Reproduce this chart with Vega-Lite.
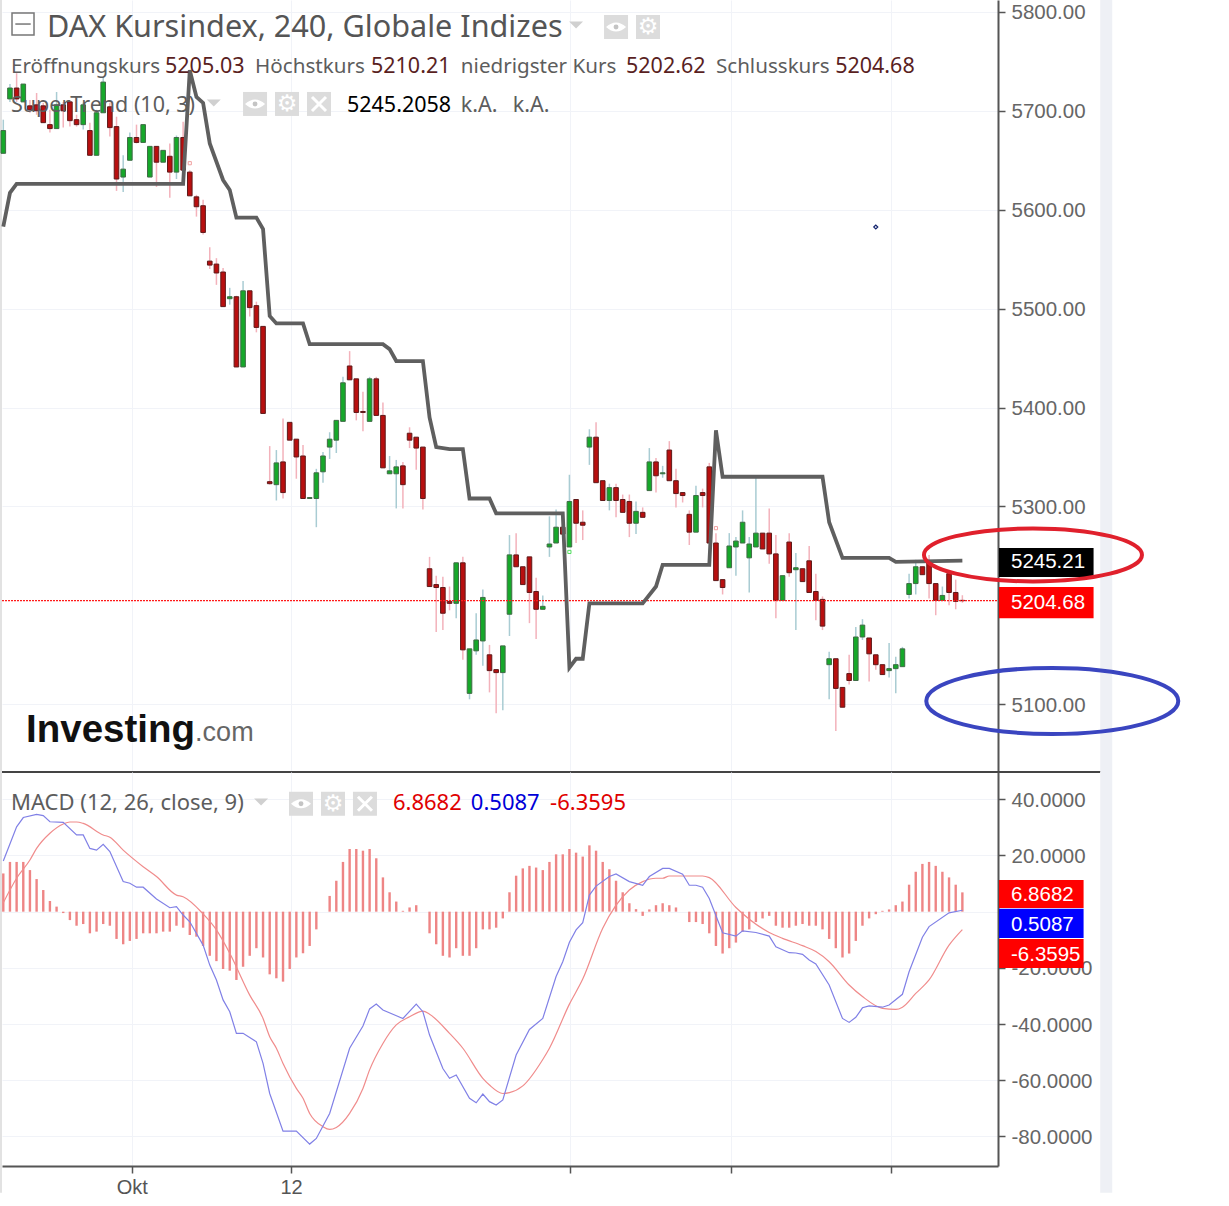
{
  "$schema": "https://vega.github.io/schema/vega-lite/v6.json",
  "background": "white",
  "padding": {"left": -5, "top": 0, "right": 0, "bottom": 0},
  "spacing": 0,
  "bounds": "flush",
  "config": {"view": {"stroke": null}, "axis": {"title": null}, "text": {"font": "Noto Sans"}},
  "datasets": {
    "one": [{}],
    "candles": [
      {"i":0,"open":5657,"high":5691,"low":5657,"close":5680},{"i":1,"open":5712,"high":5727,"low":5709,"close":5723},{"i":2,"open":5723,"high":5738,"low":5709,"close":5712},{"i":3,"open":5709,"high":5727,"low":5709,"close":5727},{"i":4,"open":5705,"high":5711,"low":5698,"close":5701},
      {"i":5,"open":5706,"high":5718,"low":5696,"close":5700},{"i":6,"open":5705,"high":5708,"low":5688,"close":5688},{"i":7,"open":5686,"high":5701,"low":5678,"close":5682},{"i":8,"open":5682,"high":5719,"low":5682,"close":5706},{"i":9,"open":5706,"high":5709,"low":5683,"close":5700},
      {"i":10,"open":5709,"high":5711,"low":5684,"close":5690},{"i":11,"open":5691,"high":5696,"low":5684,"close":5686},{"i":12,"open":5686,"high":5708,"low":5681,"close":5706},{"i":13,"open":5680,"high":5688,"low":5655,"close":5655},{"i":14,"open":5655,"high":5701,"low":5655,"close":5698},
      {"i":15,"open":5698,"high":5734,"low":5698,"close":5729},{"i":16,"open":5704,"high":5708,"low":5674,"close":5683},{"i":17,"open":5684,"high":5694,"low":5619,"close":5631},{"i":18,"open":5633,"high":5655,"low":5618,"close":5641},{"i":19,"open":5650,"high":5678,"low":5650,"close":5673},
      {"i":20,"open":5673,"high":5686,"low":5667,"close":5668},{"i":21,"open":5668,"high":5686,"low":5668,"close":5686},{"i":22,"open":5633,"high":5664,"low":5633,"close":5664},{"i":23,"open":5664,"high":5664,"low":5623,"close":5648},{"i":24,"open":5648,"high":5660,"low":5648,"close":5660},
      {"i":25,"open":5654,"high":5667,"low":5612,"close":5638},{"i":26,"open":5638,"high":5675,"low":5631,"close":5673},{"i":27,"open":5673,"high":5689,"low":5630,"close":5640},{"i":28,"open":5638,"high":5640,"low":5614,"close":5614},{"i":29,"open":5613,"high":5615,"low":5593,"close":5603},
      {"i":30,"open":5604,"high":5610,"low":5575,"close":5577},{"i":31,"open":5548,"high":5562,"low":5540,"close":5544},{"i":32,"open":5545,"high":5551,"low":5524,"close":5536},{"i":33,"open":5537,"high":5541,"low":5502,"close":5502},{"i":34,"open":5510,"high":5521,"low":5504,"close":5512},
      {"i":35,"open":5512,"high":5513,"low":5441,"close":5441},{"i":36,"open":5441,"high":5528,"low":5441,"close":5518},{"i":37,"open":5518,"high":5518,"low":5492,"close":5501},{"i":38,"open":5503,"high":5507,"low":5476,"close":5481},{"i":39,"open":5482,"high":5482,"low":5394,"close":5394},
      {"i":40,"open":5325,"high":5361,"low":5322,"close":5323},{"i":41,"open":5322,"high":5357,"low":5306,"close":5344},{"i":42,"open":5345,"high":5389,"low":5308,"close":5314},{"i":43,"open":5385,"high":5385,"low":5367,"close":5367},{"i":44,"open":5368,"high":5368,"low":5328,"close":5350},
      {"i":45,"open":5351,"high":5362,"low":5308,"close":5308},{"i":46,"open":5308,"high":5309,"low":5308,"close":5309},{"i":47,"open":5308,"high":5338,"low":5279,"close":5334},{"i":48,"open":5335,"high":5355,"low":5324,"close":5351},{"i":49,"open":5360,"high":5375,"low":5348,"close":5368},
      {"i":50,"open":5367,"high":5387,"low":5354,"close":5387},{"i":51,"open":5386,"high":5431,"low":5386,"close":5425},{"i":52,"open":5442,"high":5457,"low":5428,"close":5428},{"i":53,"open":5429,"high":5429,"low":5387,"close":5395},{"i":54,"open":5396,"high":5416,"low":5376,"close":5395},
      {"i":55,"open":5386,"high":5431,"low":5386,"close":5429},{"i":56,"open":5429,"high":5431,"low":5392,"close":5392},{"i":57,"open":5392,"high":5405,"low":5339,"close":5339},{"i":58,"open":5333,"high":5351,"low":5333,"close":5336},{"i":59,"open":5333,"high":5347,"low":5298,"close":5340},
      {"i":60,"open":5341,"high":5345,"low":5298,"close":5322},{"i":61,"open":5374,"high":5380,"low":5359,"close":5367},{"i":62,"open":5370,"high":5370,"low":5337,"close":5359},{"i":63,"open":5360,"high":5360,"low":5297,"close":5308},{"i":64,"open":5237,"high":5249,"low":5219,"close":5219},
      {"i":65,"open":5221,"high":5230,"low":5173,"close":5218},{"i":66,"open":5218,"high":5229,"low":5175,"close":5192},{"i":67,"open":5204,"high":5219,"low":5195,"close":5202},{"i":68,"open":5202,"high":5243,"low":5187,"close":5243},{"i":69,"open":5243,"high":5249,"low":5145,"close":5155},
      {"i":70,"open":5111,"high":5156,"low":5105,"close":5156},{"i":71,"open":5154,"high":5192,"low":5150,"close":5165},{"i":72,"open":5164,"high":5216,"low":5139,"close":5208},{"i":73,"open":5150,"high":5160,"low":5112,"close":5134},{"i":74,"open":5135,"high":5135,"low":5091,"close":5132},
      {"i":75,"open":5132,"high":5159,"low":5094,"close":5159},{"i":76,"open":5191,"high":5271,"low":5169,"close":5251},{"i":77,"open":5251,"high":5273,"low":5239,"close":5239},{"i":78,"open":5239,"high":5239,"low":5221,"close":5221},{"i":79,"open":5249,"high":5249,"low":5182,"close":5213},
      {"i":80,"open":5214,"high":5228,"low":5166,"close":5196},{"i":81,"open":5196,"high":5210,"low":5196,"close":5199},{"i":82,"open":5259,"high":5290,"low":5249,"close":5262},{"i":83,"open":5263,"high":5297,"low":5263,"close":5279},{"i":84,"open":5279,"high":5285,"low":5272,"close":5272},
      {"i":85,"open":5259,"high":5332,"low":5259,"close":5305},{"i":86,"open":5307,"high":5307,"low":5263,"close":5283},{"i":87,"open":5284,"high":5296,"low":5266,"close":5281},{"i":88,"open":5360,"high":5378,"low":5342,"close":5370},{"i":89,"open":5370,"high":5385,"low":5324,"close":5324},
      {"i":90,"open":5326,"high":5326,"low":5306,"close":5306},{"i":91,"open":5306,"high":5323,"low":5296,"close":5319},{"i":92,"open":5319,"high":5323,"low":5289,"close":5306},{"i":93,"open":5307,"high":5312,"low":5294,"close":5294},{"i":94,"open":5305,"high":5312,"low":5269,"close":5283},
      {"i":95,"open":5283,"high":5305,"low":5272,"close":5295},{"i":96,"open":5294,"high":5299,"low":5289,"close":5289},{"i":97,"open":5316,"high":5359,"low":5316,"close":5345},{"i":98,"open":5345,"high":5349,"low":5314,"close":5331},{"i":99,"open":5333,"high":5341,"low":5329,"close":5334},
      {"i":100,"open":5357,"high":5366,"low":5326,"close":5326},{"i":101,"open":5326,"high":5338,"low":5299,"close":5313},{"i":102,"open":5314,"high":5314,"low":5304,"close":5311},{"i":103,"open":5292,"high":5296,"low":5261,"close":5274},{"i":104,"open":5274,"high":5321,"low":5274,"close":5311},
      {"i":105,"open":5314,"high":5318,"low":5299,"close":5311},{"i":106,"open":5340,"high":5344,"low":5263,"close":5263},{"i":107,"open":5263,"high":5273,"low":5225,"close":5225},{"i":108,"open":5226,"high":5226,"low":5211,"close":5218},{"i":109,"open":5238,"high":5273,"low":5238,"close":5260},
      {"i":110,"open":5259,"high":5269,"low":5230,"close":5265},{"i":111,"open":5263,"high":5296,"low":5263,"close":5284},{"i":112,"open":5248,"high":5269,"low":5213,"close":5262},{"i":113,"open":5259,"high":5329,"low":5259,"close":5273},{"i":114,"open":5273,"high":5273,"low":5257,"close":5257},
      {"i":115,"open":5273,"high":5298,"low":5242,"close":5252},{"i":116,"open":5252,"high":5271,"low":5187,"close":5205},{"i":117,"open":5205,"high":5230,"low":5205,"close":5230},{"i":118,"open":5264,"high":5273,"low":5229,"close":5233},{"i":119,"open":5236,"high":5253,"low":5175,"close":5238},
      {"i":120,"open":5237,"high":5237,"low":5224,"close":5224},{"i":121,"open":5245,"high":5260,"low":5213,"close":5213},{"i":122,"open":5214,"high":5232,"low":5185,"close":5205},{"i":123,"open":5206,"high":5209,"low":5175,"close":5179},{"i":124,"open":5140,"high":5153,"low":5105,"close":5146},
      {"i":125,"open":5146,"high":5146,"low":5073,"close":5116},{"i":126,"open":5117,"high":5117,"low":5097,"close":5097},{"i":127,"open":5131,"high":5150,"low":5120,"close":5124},{"i":128,"open":5124,"high":5178,"low":5124,"close":5168},{"i":129,"open":5168,"high":5186,"low":5165,"close":5180},
      {"i":130,"open":5167,"high":5167,"low":5123,"close":5151},{"i":131,"open":5150,"high":5150,"low":5135,"close":5140},{"i":132,"open":5140,"high":5140,"low":5130,"close":5130},{"i":133,"open":5134,"high":5162,"low":5127,"close":5136},{"i":134,"open":5136,"high":5148,"low":5111,"close":5140},
      {"i":135,"open":5138,"high":5158,"low":5138,"close":5156},{"i":136,"open":5211,"high":5232,"low":5207,"close":5222},{"i":137,"open":5222,"high":5246,"low":5211,"close":5239},{"i":138,"open":5239,"high":5239,"low":5231,"close":5231},{"i":139,"open":5243,"high":5251,"low":5207,"close":5222},
      {"i":140,"open":5222,"high":5222,"low":5190,"close":5205},{"i":141,"open":5205,"high":5219,"low":5205,"close":5210},{"i":142,"open":5232,"high":5232,"low":5200,"close":5213},{"i":143,"open":5213,"high":5226,"low":5196,"close":5204},{"i":144,"open":5205.03,"high":5210.21,"low":5202.62,"close":5204.68}
    ],
    "supertrend": [
      {"i":0,"st":5583},{"i":1,"st":5617},{"i":2,"st":5626},{"i":27,"st":5626},{"i":28,"st":5741},{"i":29,"st":5714},{"i":30,"st":5708},{"i":31,"st":5667},{"i":33,"st":5630},{"i":34,"st":5620},{"i":35,"st":5592},{"i":38,"st":5592},{"i":39,"st":5580.5},{"i":40,"st":5492.5},{"i":41,"st":5485},{"i":45,"st":5485},{"i":46,"st":5464},{"i":57,"st":5464},{"i":58,"st":5459},{"i":59,"st":5447},{"i":63,"st":5447},{"i":64,"st":5390},{"i":65,"st":5360},{"i":67,"st":5358},{"i":69,"st":5358},{"i":70,"st":5308},{"i":73,"st":5308},{"i":74,"st":5293},{"i":84,"st":5293},{"i":85,"st":5137},{"i":86,"st":5146},{"i":87,"st":5146},{"i":88,"st":5202},{"i":96,"st":5202},{"i":98,"st":5219},{"i":99,"st":5241},{"i":106,"st":5241},{"i":107,"st":5377},{"i":108,"st":5330},{"i":123,"st":5330},{"i":124,"st":5284},{"i":126,"st":5248},{"i":133,"st":5248},{"i":134,"st":5244},{"i":144,"st":5245.21}
    ],
    "signals": [
      {"i":28,"y":5647,"dir":"down"},{"i":85,"y":5254,"dir":"up"},{"i":107,"y":5278,"dir":"down"}
    ],
    "hist": [
      {"i":0,"h":13.6},{"i":1,"h":17.7},{"i":2,"h":17.7},{"i":3,"h":17.7},{"i":4,"h":14.8},{"i":5,"h":11.6},{"i":6,"h":7.7},{"i":7,"h":3.8},{"i":8,"h":1.8},{"i":9,"h":-0.5},{"i":10,"h":-3},{"i":11,"h":-5},{"i":12,"h":-4.4},{"i":13,"h":-7.7},{"i":14,"h":-7.1},{"i":15,"h":-4.4},{"i":16,"h":-5},{"i":17,"h":-9.7},{"i":18,"h":-11.6},{"i":19,"h":-10.4},{"i":20,"h":-9.7},{"i":21,"h":-7.7},{"i":22,"h":-7.7},{"i":23,"h":-7.7},{"i":24,"h":-7.1},{"i":25,"h":-7.1},{"i":26,"h":-5},{"i":27,"h":-5.7},{"i":28,"h":-8.3},{"i":29,"h":-8.9},
      {"i":30,"h":-12.2},{"i":31,"h":-15.7},{"i":32,"h":-17.6},{"i":33,"h":-20.4},{"i":34,"h":-21},{"i":35,"h":-24.3},{"i":36,"h":-19.6},{"i":37,"h":-15.7},{"i":38,"h":-13},{"i":39,"h":-16.3},{"i":40,"h":-22.3},{"i":41,"h":-23.7},{"i":42,"h":-24.9},{"i":43,"h":-20.4},{"i":44,"h":-16.3},{"i":45,"h":-14.8},{"i":46,"h":-12.2},{"i":47,"h":-6.3},{"i":49,"h":5.6},{"i":50,"h":11},{"i":51,"h":17.7},{"i":52,"h":22.3},{"i":53,"h":22.3},{"i":54,"h":21.7},{"i":55,"h":22.3},{"i":56,"h":19},{"i":57,"h":12.2},{"i":58,"h":6.9},{"i":59,"h":3.6},{"i":60,"h":0.3},
      {"i":61,"h":1.5},{"i":62,"h":2.3},{"i":64,"h":-7.7},{"i":65,"h":-11.6},{"i":66,"h":-15.7},{"i":67,"h":-16.3},{"i":68,"h":-13},{"i":69,"h":-15.7},{"i":70,"h":-15.7},{"i":71,"h":-13},{"i":72,"h":-6.3},{"i":73,"h":-6.3},{"i":74,"h":-5.7},{"i":75,"h":-2.4},{"i":76,"h":6.9},{"i":77,"h":12.8},{"i":78,"h":15.4},{"i":79,"h":16.3},{"i":80,"h":15.7},{"i":81,"h":14.8},{"i":82,"h":17.7},{"i":83,"h":20.4},{"i":84,"h":20.4},{"i":85,"h":22.3},{"i":86,"h":21},{"i":87,"h":19.6},{"i":88,"h":23.6},{"i":89,"h":21.7},{"i":90,"h":17.7},
      {"i":91,"h":15.1},{"i":92,"h":11},{"i":93,"h":6.9},{"i":94,"h":3},{"i":95,"h":0.9},{"i":96,"h":-1.5},{"i":97,"h":0.8},{"i":98,"h":2.3},{"i":99,"h":3},{"i":100,"h":2.3},{"i":101,"h":1.5},{"i":103,"h":-3.7},{"i":104,"h":-3.7},{"i":105,"h":-4.4},{"i":106,"h":-7.7},{"i":107,"h":-12.2},{"i":108,"h":-14.9},{"i":109,"h":-13},{"i":110,"h":-11},{"i":111,"h":-7.1},{"i":112,"h":-6.3},{"i":113,"h":-3.7},{"i":114,"h":-2.4},{"i":115,"h":-1.5},{"i":116,"h":-5},{"i":117,"h":-5.7},{"i":118,"h":-5.7},{"i":119,"h":-5},{"i":120,"h":-4.4},
      {"i":121,"h":-5},{"i":122,"h":-5},{"i":123,"h":-6.3},{"i":124,"h":-9.7},{"i":125,"h":-13},{"i":126,"h":-16.3},{"i":127,"h":-14.9},{"i":128,"h":-10.4},{"i":129,"h":-5},{"i":130,"h":-2.4},{"i":131,"h":-0.9},{"i":132,"h":0.3},{"i":133,"h":0.8},{"i":134,"h":2.3},{"i":135,"h":3.6},{"i":136,"h":9.6},{"i":137,"h":14.2},{"i":138,"h":17},{"i":139,"h":17.7},{"i":140,"h":16.3},{"i":141,"h":14.2},{"i":142,"h":12.2},{"i":143,"h":9.6},{"i":144,"h":6.8682}
    ],
    "macd": [
      {"i":0,"m":18},{"i":2,"m":30.2},{"i":3,"m":33.5},{"i":5,"m":34.6},{"i":6,"m":34.2},{"i":7,"m":32},{"i":9,"m":31.8},{"i":11,"m":27.3},{"i":12,"m":27.3},{"i":13,"m":22.5},{"i":14,"m":21.9},{"i":15,"m":24},{"i":16,"m":21.4},{"i":18,"m":10.7},{"i":19,"m":10.1},{"i":20,"m":8.7},{"i":21,"m":8.7},{"i":23,"m":4.5},{"i":25,"m":1.4},{"i":26,"m":1.8},{"i":27,"m":-1.2},{"i":28,"m":-3.6},{"i":30,"m":-11.9},{"i":31,"m":-19},{"i":32,"m":-24.3},{"i":33,"m":-31.4},{"i":34,"m":-35.6},{"i":35,"m":-43.3},{"i":36,"m":-43.3},{"i":38,"m":-46.3},{"i":39,"m":-54},{"i":40,"m":-64.7},{"i":42,"m":-78.1},{"i":44,"m":-78.1},{"i":46,"m":-82.7},{"i":47,"m":-80.7},{"i":49,"m":-71.8},{"i":52,"m":-48.6},{"i":54,"m":-40.7},{"i":55,"m":-34.6},{"i":56,"m":-32.9},{"i":57,"m":-35},{"i":60,"m":-38},{"i":62,"m":-32.9},{"i":63,"m":-35.6},{"i":64,"m":-43.9},{"i":66,"m":-55.8},{"i":67,"m":-59.3},{"i":68,"m":-58.1},{"i":70,"m":-66.4},{"i":71,"m":-68},{"i":72,"m":-64.9},{"i":73,"m":-67.6},{"i":74,"m":-68.8},{"i":75,"m":-67},{"i":77,"m":-51},{"i":79,"m":-41.9},{"i":81,"m":-38},{"i":83,"m":-23.1},{"i":84,"m":-17.8},{"i":85,"m":-10.9},{"i":86,"m":-6.5},{"i":87,"m":-3.9},{"i":88,"m":5.9},{"i":89,"m":9.1},{"i":91,"m":12.5},{"i":92,"m":13.4},{"i":94,"m":10.7},{"i":96,"m":9.4},{"i":97,"m":12.5},{"i":99,"m":15.4},{"i":100,"m":15.4},{"i":102,"m":13.3},{"i":103,"m":9.4},{"i":104,"m":9.4},{"i":105,"m":8.7},{"i":106,"m":4.7},{"i":108,"m":-7.5},{"i":110,"m":-8.7},{"i":111,"m":-6.8},{"i":113,"m":-7.4},{"i":115,"m":-8.7},{"i":116,"m":-12.5},{"i":118,"m":-14.6},{"i":119,"m":-14.7},{"i":120,"m":-15.2},{"i":121,"m":-17.2},{"i":122,"m":-18.6},{"i":124,"m":-26.1},{"i":126,"m":-38},{"i":127,"m":-39.4},{"i":128,"m":-37.6},{"i":129,"m":-34.2},{"i":130,"m":-33.5},{"i":132,"m":-34},{"i":133,"m":-33.2},{"i":135,"m":-29.4},{"i":136,"m":-21.4},{"i":138,"m":-9.1},{"i":139,"m":-5.3},{"i":142,"m":-0.4},{"i":144,"m":0.5087}
    ],
    "signal": [
      {"i":0,"s":3.2},{"i":2,"s":11.9},{"i":4,"s":18.4},{"i":5,"s":22.5},{"i":7,"s":27.9},{"i":9,"s":31.2},{"i":10,"s":31.9},{"i":11,"s":31.9},{"i":12,"s":31.4},{"i":15,"s":27.3},{"i":16,"s":26.5},{"i":18,"s":21.9},{"i":21,"s":16},{"i":23,"s":12.5},{"i":26,"s":5.9},{"i":27,"s":5.3},{"i":30,"s":-0.8},{"i":32,"s":-6.5},{"i":34,"s":-14.8},{"i":37,"s":-29.7},{"i":39,"s":-38},{"i":40,"s":-44.5},{"i":41,"s":-48.6},{"i":42,"s":-54},{"i":44,"s":-62.9},{"i":45,"s":-66.4},{"i":46,"s":-71.8},{"i":48,"s":-76.5},{"i":49,"s":-77.5},{"i":50,"s":-76.8},{"i":52,"s":-71.8},{"i":54,"s":-62.9},{"i":55,"s":-56.3},{"i":57,"s":-46.9},{"i":59,"s":-40.3},{"i":61,"s":-37.4},{"i":63,"s":-35.4},{"i":64,"s":-36.5},{"i":67,"s":-43.3},{"i":69,"s":-48.6},{"i":72,"s":-59.3},{"i":73,"s":-61.7},{"i":75,"s":-64.7},{"i":76,"s":-64.4},{"i":78,"s":-62},{"i":81,"s":-52.6},{"i":82,"s":-48.6},{"i":85,"s":-32.9},{"i":87,"s":-24},{"i":90,"s":-5.9},{"i":94,"s":7.7},{"i":96,"s":10.7},{"i":98,"s":11.9},{"i":99,"s":11.9},{"i":100,"s":12.7},{"i":105,"s":12.7},{"i":106,"s":12.1},{"i":110,"s":1.5},{"i":115,"s":-7.4},{"i":117,"s":-9.5},{"i":120,"s":-12.1},{"i":122,"s":-14.2},{"i":124,"s":-17.8},{"i":127,"s":-26.1},{"i":129,"s":-30.2},{"i":132,"s":-34.4},{"i":134,"s":-34.8},{"i":135,"s":-34},{"i":137,"s":-29.1},{"i":139,"s":-24.3},{"i":142,"s":-11.9},{"i":144,"s":-6.3595}
    ],
    "top_labels": [
      {"i":1.16,"y":5744.3,"text":"Eröffnungskurs","kind":"label"},{"i":24.28,"y":5744.3,"text":"5205.03","kind":"ohlc"},{"i":37.8,"y":5744.3,"text":"Höchstkurs","kind":"label"},{"i":55.2,"y":5744.3,"text":"5210.21","kind":"ohlc"},{"i":68.7,"y":5744.3,"text":"niedrigster Kurs","kind":"label"},{"i":93.5,"y":5744.3,"text":"5202.62","kind":"ohlc"},{"i":107,"y":5744.3,"text":"Schlusskurs","kind":"label"},{"i":124.9,"y":5744.3,"text":"5204.68","kind":"ohlc"},
      {"i":1.16,"y":5704.9,"text":"SuperTrend (10, 3)","kind":"indicator"},{"i":51.6,"y":5704.9,"text":"5245.2058","kind":"black"},{"i":68.7,"y":5704.9,"text":"k.A.","kind":"indicator"},{"i":76.5,"y":5704.9,"text":"k.A.","kind":"indicator"}
    ],
    "low_labels": [
      {"i":1.16,"y":38.7,"text":"MACD (12, 26, close, 9)","kind":"indicator"},{"i":58.5,"y":38.7,"text":"6.8682","kind":"red"},{"i":70.2,"y":38.7,"text":"0.5087","kind":"blue"},{"i":82.1,"y":38.7,"text":"-6.3595","kind":"red"}
    ],
    "top_buttons": [
      {"i":92,"y":5784.7,"kind":"eye"},{"i":96.8,"y":5784.7,"kind":"gear"},{"i":37.8,"y":5706.9,"kind":"eye"},{"i":42.6,"y":5706.9,"kind":"gear"},{"i":47.4,"y":5706.9,"kind":"close"}
    ],
    "low_buttons": [
      {"i":44.7,"y":38.4,"kind":"eye"},{"i":49.5,"y":38.4,"kind":"gear"},{"i":54.3,"y":38.4,"kind":"close"}
    ],
    "top_tags": [
      {"text":"5245.21","y":5243.7,"top":5258,"bottom":5228.6,"fill":"black"},{"text":"5204.68","y":5202,"top":5218.5,"bottom":5187,"fill":"red"}
    ],
    "low_tags": [
      {"text":"6.8682","y":5.9,"top":11.3,"bottom":1.3,"fill":"red"},{"text":"0.5087","y":-4.8,"top":1,"bottom":-9.4,"fill":"blue"},{"text":"-6.3595","y":-15.4,"top":-9.7,"bottom":-20,"fill":"red"}
    ]
  },
  "vconcat": [
    {
      "width": 996,
      "height": 772,
      "layer": [
        {
          "data": {"name": "candles"},
          "mark": {"type": "rule", "strokeWidth": 1.5},
          "encoding": {
            "x": {"field": "i", "type": "quantitative", "scale": {"domain": [-0.195, 149.35], "nice": false, "zero": false, "padding": 0},
              "axis": {"values": [19.3, 43.2, 85.1, 109.3, 133.3], "labels": false, "ticks": false, "domain": false, "grid": true, "gridColor": "#f1f3f8", "gridWidth": 1}},
            "y": {"field": "low", "type": "quantitative", "scale": {"domain": [5031.5, 5812], "nice": false, "zero": false, "padding": 0},
              "axis": {"orient": "right", "values": [5100, 5300, 5400, 5500, 5600, 5700, 5800], "format": ".2f", "grid": true, "gridColor": "#f1f3f8", "gridWidth": 1, "domainColor": "#555555", "domainWidth": 2, "tickColor": "#555555", "tickSize": 7, "tickWidth": 1.5, "labelPadding": 6, "labelOffset": 1, "labelFont": "Liberation Sans", "labelFontSize": 20.5, "labelColor": "#666666"}},
            "y2": {"field": "high"},
            "color": {"condition": {"test": "datum.close >= datum.open", "value": "#a9ccd3"}, "value": "#f3b2bb"}
          }
        },
        {
          "data": {"name": "one"},
          "mark": {"type": "rect", "color": "#e2e2e2"},
          "encoding": {"x": {"datum": -0.5}, "x2": {"datum": -0.195}, "y": {"datum": 5812}, "y2": {"datum": 5031.5}}
        },
        {
          "data": {"name": "one"},
          "mark": {"type": "rect", "color": "#eef0f5"},
          "encoding": {"x": {"datum": 164.7}, "x2": {"datum": 166.5}, "y": {"datum": 5812}, "y2": {"datum": 5031.5}}
        },
        {
          "data": {"name": "candles"},
          "mark": {"type": "bar", "orient": "vertical", "width": 4.6, "strokeWidth": 1},
          "encoding": {
            "x": {"field": "i", "type": "quantitative"},
            "y": {"field": "open", "type": "quantitative"},
            "y2": {"field": "close"},
            "fill": {"condition": {"test": "datum.close >= datum.open", "value": "#16a82a"}, "value": "#b80f0f"},
            "stroke": {"condition": {"test": "datum.close >= datum.open", "value": "#3f6b45"}, "value": "#5e1a1a"}
          }
        },
        {
          "data": {"name": "one"},
          "mark": {"type": "rule", "stroke": "#ff1a1a", "strokeWidth": 1.2, "strokeDash": [2, 1], "opacity": 1},
          "encoding": {"x": {"datum": -0.195}, "x2": {"datum": 149.35}, "y": {"datum": 5204.68}}
        },
        {
          "data": {"name": "supertrend"},
          "mark": {"type": "line", "color": "#5f5f5f", "strokeWidth": 3.8, "strokeJoin": "miter"},
          "encoding": {"x": {"field": "i", "type": "quantitative"}, "y": {"field": "st", "type": "quantitative"}}
        },
        {
          "data": {"name": "signals"},
          "mark": {"type": "point", "shape": "square", "size": 10, "filled": false, "strokeWidth": 1, "opacity": 1},
          "encoding": {
            "x": {"field": "i", "type": "quantitative"},
            "y": {"field": "y", "type": "quantitative"},
            "stroke": {"condition": {"test": "datum.dir == 'up'", "value": "#55e060"}, "value": "#f0a0a0"}
          }
        },
        {
          "data": {"name": "one"},
          "mark": {"type": "point", "shape": "diamond", "size": 16, "color": "#14246e", "filled": false, "strokeWidth": 1.2, "opacity": 1},
          "encoding": {"x": {"datum": 131}, "y": {"datum": 5582.5}}
        },
        {
          "data": {"name": "one"},
          "mark": {"type": "rule", "color": "#444444", "strokeWidth": 2},
          "encoding": {"x": {"datum": -0.195}, "x2": {"datum": 164.7}, "y": {"datum": 5031.5}}
        },
        {
          "data": {"name": "top_tags"},
          "mark": {"type": "rect"},
          "encoding": {"x": {"datum": 149.5}, "x2": {"datum": 163.7}, "y": {"field": "top", "type": "quantitative"}, "y2": {"field": "bottom"},
            "fill": {"field": "fill", "type": "nominal", "scale": null}}
        },
        {
          "data": {"name": "top_tags"},
          "mark": {"type": "text", "align": "left", "baseline": "middle", "font": "Liberation Sans", "fontSize": 20.5, "color": "white"},
          "encoding": {"x": {"datum": 151.3}, "y": {"field": "y", "type": "quantitative"}, "text": {"field": "text"}}
        },
        {
          "data": {"name": "one"},
          "mark": {"type": "point", "shape": "M-1,0 A1,0.243 0 1,1 1,0 A1,0.243 0 1,1 -1,0 Z", "size": 47524, "color": "#e0202c", "filled": false, "strokeWidth": 4, "opacity": 1},
          "encoding": {"x": {"datum": 154.6}, "y": {"datum": 5251}}
        },
        {
          "data": {"name": "one"},
          "mark": {"type": "point", "shape": "M-1,0 A1,0.262 0 1,1 1,0 A1,0.262 0 1,1 -1,0 Z", "size": 63504, "color": "#3a45c0", "filled": false, "strokeWidth": 4, "opacity": 1},
          "encoding": {"x": {"datum": 157.5}, "y": {"datum": 5103.3}}
        },
        {
          "data": {"name": "one"},
          "mark": {"type": "text", "align": "left", "baseline": "middle", "fontSize": 38.5, "fontWeight": "bold", "font": "Liberation Sans", "color": "#111111", "text": "Investing"},
          "encoding": {"x": {"datum": 3.41}, "y": {"datum": 5074}}
        },
        {
          "data": {"name": "one"},
          "mark": {"type": "text", "align": "left", "baseline": "middle", "fontSize": 27, "font": "Liberation Sans", "color": "#666666", "text": ".com"},
          "encoding": {"x": {"datum": 28.8}, "y": {"datum": 5071}}
        },
        {
          "data": {"name": "one"},
          "mark": {"type": "point", "shape": "square", "size": 484, "color": "#777777", "filled": false, "strokeWidth": 1.5, "opacity": 1},
          "encoding": {"x": {"datum": 2.96}, "y": {"datum": 5787.7}}
        },
        {
          "data": {"name": "one"},
          "mark": {"type": "point", "shape": "M-0.7,0 L0.7,0", "size": 484, "color": "#777777", "filled": false, "strokeWidth": 1.5, "opacity": 1},
          "encoding": {"x": {"datum": 2.96}, "y": {"datum": 5787.7}}
        },
        {
          "data": {"name": "one"},
          "mark": {"type": "text", "align": "left", "baseline": "middle", "fontSize": 30.6, "color": "#555555", "text": "DAX Kursindex, 240, Globale Indizes"},
          "encoding": {"x": {"datum": 6.56}, "y": {"datum": 5783.7}}
        },
        {
          "data": {"name": "top_labels"},
          "mark": {"type": "text", "align": "left", "baseline": "middle"},
          "encoding": {
            "x": {"field": "i", "type": "quantitative"},
            "y": {"field": "y", "type": "quantitative"},
            "text": {"field": "text"},
            "size": {"condition": {"test": "datum.kind == 'label'", "value": 20.6}, "value": 21.5},
            "color": {"field": "kind", "type": "nominal", "legend": null, "scale": {"domain": ["label", "indicator", "ohlc", "black", "red", "blue"], "range": ["#5d5d5d", "#5d5d5d", "#5a1f1f", "#000000", "#e00000", "#0000d8"]}}
          }
        },
        {
          "data": {"name": "one"},
          "mark": {"type": "point", "shape": "M-1,-0.5 L1,-0.5 L0,0.5 Z", "size": 196, "color": "#d0d0d0", "filled": true, "opacity": 1},
          "encoding": {"x": {"datum": 86}, "y": {"datum": 5786.7}}
        },
        {
          "data": {"name": "one"},
          "mark": {"type": "point", "shape": "M-1,-0.5 L1,-0.5 L0,0.5 Z", "size": 196, "color": "#d0d0d0", "filled": true, "opacity": 1},
          "encoding": {"x": {"datum": 31.6}, "y": {"datum": 5707.9}}
        },
        {
          "data": {"name": "top_buttons"},
          "mark": {"type": "point", "shape": "square", "size": 576, "color": "#dcdcdc", "filled": true, "opacity": 1},
          "encoding": {"x": {"field": "i", "type": "quantitative"}, "y": {"field": "y", "type": "quantitative"}}
        },
        {
          "data": {"name": "top_buttons"},
          "transform": [{"filter": "datum.kind == 'eye'"}],
          "mark": {"type": "point", "shape": "M-1,0 Q0,-0.9 1,0 Q0,0.9 -1,0 Z", "size": 400, "color": "white", "filled": true, "opacity": 1},
          "encoding": {"x": {"field": "i", "type": "quantitative"}, "y": {"field": "y", "type": "quantitative"}}
        },
        {
          "data": {"name": "top_buttons"},
          "transform": [{"filter": "datum.kind == 'eye'"}],
          "mark": {"type": "point", "shape": "circle", "size": 24, "color": "#c4c4c4", "filled": true, "opacity": 1},
          "encoding": {"x": {"field": "i", "type": "quantitative"}, "y": {"field": "y", "type": "quantitative"}}
        },
        {
          "data": {"name": "top_buttons"},
          "transform": [{"filter": "datum.kind == 'gear'"}],
          "mark": {"type": "text", "font": "DejaVu Sans", "fontSize": 23, "align": "center", "baseline": "middle", "color": "white", "text": "⚙"},
          "encoding": {"x": {"field": "i", "type": "quantitative"}, "y": {"field": "y", "type": "quantitative"}}
        },
        {
          "data": {"name": "top_buttons"},
          "transform": [{"filter": "datum.kind == 'close'"}],
          "mark": {"type": "point", "shape": "M-0.7,-0.7 L0.7,0.7 M-0.7,0.7 L0.7,-0.7", "size": 400, "color": "white", "filled": false, "strokeWidth": 3, "opacity": 1},
          "encoding": {"x": {"field": "i", "type": "quantitative"}, "y": {"field": "y", "type": "quantitative"}}
        }
      ]
    },
    {
      "width": 996,
      "height": 394,
      "layer": [
        {
          "data": {"name": "hist"},
          "mark": {"type": "rule", "color": "#ee8585", "strokeWidth": 2.4},
          "encoding": {
            "x": {"field": "i", "type": "quantitative", "scale": {"domain": [-0.195, 149.35], "nice": false, "zero": false, "padding": 0},
              "axis": {"values": [19.3, 43.2, 85.1, 109.3, 133.3], "labelExpr": "datum.value == 19.3 ? 'Okt' : datum.value == 43.2 ? '12' : ''", "grid": true, "gridColor": "#f1f3f8", "gridWidth": 1, "domainColor": "#555555", "domainWidth": 2, "tickColor": "#555555", "tickSize": 7, "tickWidth": 1.5, "labelPadding": 4, "labelFont": "Liberation Sans", "labelFontSize": 20, "labelColor": "#555555"}},
            "y": {"field": "h", "type": "quantitative", "scale": {"domain": [-90.5, 49.7], "nice": false, "zero": false, "padding": 0},
              "axis": {"orient": "right", "values": [40, 20, 0, -20, -40, -60, -80], "labelExpr": "datum.value == 0 ? '' : replace(format(datum.value, '.4f'), '−', '-')", "grid": true, "gridColor": "#f1f3f8", "gridWidth": 1, "domainColor": "#555555", "domainWidth": 2, "tickColor": "#555555", "tickSize": 7, "tickWidth": 1.5, "labelPadding": 6, "labelOffset": 1, "labelFont": "Liberation Sans", "labelFontSize": 20.5, "labelColor": "#666666"}},
            "y2": {"datum": 0}
          }
        },
        {
          "data": {"name": "one"},
          "mark": {"type": "rect", "color": "#e2e2e2"},
          "encoding": {"x": {"datum": -0.5}, "x2": {"datum": -0.195}, "y": {"datum": 49.7}, "y2": {"datum": -100}}
        },
        {
          "data": {"name": "one"},
          "mark": {"type": "rect", "color": "#eef0f5"},
          "encoding": {"x": {"datum": 164.7}, "x2": {"datum": 166.5}, "y": {"datum": 49.7}, "y2": {"datum": -100}}
        },
        {
          "data": {"name": "signal"},
          "mark": {"type": "line", "color": "#f08c8c", "strokeWidth": 1.2, "interpolate": "monotone"},
          "encoding": {"x": {"field": "i", "type": "quantitative"}, "y": {"field": "s", "type": "quantitative"}}
        },
        {
          "data": {"name": "macd"},
          "mark": {"type": "line", "color": "#8080e6", "strokeWidth": 1.2},
          "encoding": {"x": {"field": "i", "type": "quantitative"}, "y": {"field": "m", "type": "quantitative"}}
        },
        {
          "data": {"name": "low_tags"},
          "mark": {"type": "rect"},
          "encoding": {"x": {"datum": 149.5}, "x2": {"datum": 162.2}, "y": {"field": "top", "type": "quantitative"}, "y2": {"field": "bottom"},
            "fill": {"field": "fill", "type": "nominal", "scale": null}}
        },
        {
          "data": {"name": "low_tags"},
          "mark": {"type": "text", "align": "left", "baseline": "middle", "font": "Liberation Sans", "fontSize": 20.5, "color": "white"},
          "encoding": {"x": {"datum": 151.3}, "y": {"field": "y", "type": "quantitative"}, "text": {"field": "text"}}
        },
        {
          "data": {"name": "low_labels"},
          "mark": {"type": "text", "align": "left", "baseline": "middle", "fontSize": 22},
          "encoding": {
            "x": {"field": "i", "type": "quantitative"},
            "y": {"field": "y", "type": "quantitative"},
            "text": {"field": "text"},
            "color": {"field": "kind", "type": "nominal", "legend": null, "scale": {"domain": ["label", "indicator", "ohlc", "black", "red", "blue"], "range": ["#5d5d5d", "#5d5d5d", "#5a1f1f", "#000000", "#e00000", "#0000d8"]}}
          }
        },
        {
          "data": {"name": "one"},
          "mark": {"type": "point", "shape": "M-1,-0.5 L1,-0.5 L0,0.5 Z", "size": 196, "color": "#d0d0d0", "filled": true, "opacity": 1},
          "encoding": {"x": {"datum": 38.7}, "y": {"datum": 39}}
        },
        {
          "data": {"name": "low_buttons"},
          "mark": {"type": "point", "shape": "square", "size": 576, "color": "#dcdcdc", "filled": true, "opacity": 1},
          "encoding": {"x": {"field": "i", "type": "quantitative"}, "y": {"field": "y", "type": "quantitative"}}
        },
        {
          "data": {"name": "low_buttons"},
          "transform": [{"filter": "datum.kind == 'eye'"}],
          "mark": {"type": "point", "shape": "M-1,0 Q0,-0.9 1,0 Q0,0.9 -1,0 Z", "size": 400, "color": "white", "filled": true, "opacity": 1},
          "encoding": {"x": {"field": "i", "type": "quantitative"}, "y": {"field": "y", "type": "quantitative"}}
        },
        {
          "data": {"name": "low_buttons"},
          "transform": [{"filter": "datum.kind == 'eye'"}],
          "mark": {"type": "point", "shape": "circle", "size": 24, "color": "#c4c4c4", "filled": true, "opacity": 1},
          "encoding": {"x": {"field": "i", "type": "quantitative"}, "y": {"field": "y", "type": "quantitative"}}
        },
        {
          "data": {"name": "low_buttons"},
          "transform": [{"filter": "datum.kind == 'gear'"}],
          "mark": {"type": "text", "font": "DejaVu Sans", "fontSize": 23, "align": "center", "baseline": "middle", "color": "white", "text": "⚙"},
          "encoding": {"x": {"field": "i", "type": "quantitative"}, "y": {"field": "y", "type": "quantitative"}}
        },
        {
          "data": {"name": "low_buttons"},
          "transform": [{"filter": "datum.kind == 'close'"}],
          "mark": {"type": "point", "shape": "M-0.7,-0.7 L0.7,0.7 M-0.7,0.7 L0.7,-0.7", "size": 400, "color": "white", "filled": false, "strokeWidth": 3, "opacity": 1},
          "encoding": {"x": {"field": "i", "type": "quantitative"}, "y": {"field": "y", "type": "quantitative"}}
        }
      ]
    }
  ]
}
